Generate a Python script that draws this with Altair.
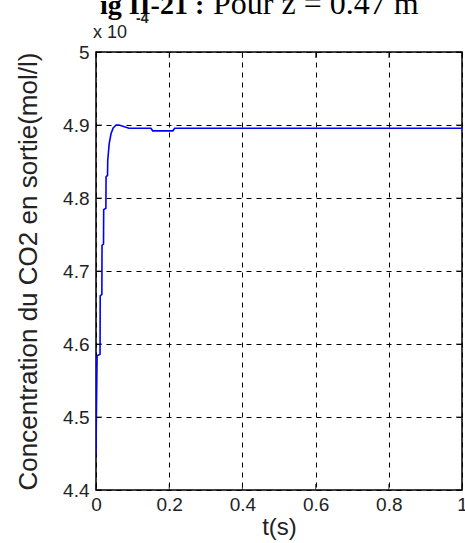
import altair as alt
import pandas as pd

# Outlet CO2 concentration (in units of 1e-4 mol/l) versus time (s)
t_s = [0.000, 0.0010, 0.0030, 0.0110, 0.0115, 0.0160, 0.0165, 0.0205, 0.0210,
       0.0270, 0.0275, 0.0315, 0.0320, 0.0360, 0.0410, 0.0470, 0.0550, 0.0630,
       0.0900, 0.1500, 0.1550, 0.2100, 0.2150, 1.0000]
conc_e4 = [4.448, 4.500, 4.584, 4.586, 4.666, 4.668, 4.735, 4.737, 4.784,
           4.786, 4.829, 4.831, 4.851, 4.874, 4.888, 4.896, 4.900, 4.900,
           4.8955, 4.8955, 4.892, 4.892, 4.8955, 4.8955]

x_ticks = [0, 0.2, 0.4, 0.6, 0.8, 1]
y_ticks = [4.4, 4.5, 4.6, 4.7, 4.8, 4.9, 5]

W, H = 366, 438
FONT = "Liberation Sans"

df = pd.DataFrame({"t": t_s, "c": conc_e4})
xt = pd.DataFrame({"v": x_ticks})
yt = pd.DataFrame({"v": y_ticks})

x_scale = alt.Scale(domain=[0, 1], nice=False, zero=False)
y_scale = alt.Scale(domain=[4.4, 5], nice=False, zero=False)

x_axis = alt.Axis(values=x_ticks, format="~g", title="t(s)", grid=True,
                  gridColor="black", gridDash=[5, 5], gridWidth=1, gridOpacity=1,
                  domain=False, ticks=False, labelFont=FONT, labelFontSize=19,
                  labelColor="#222222", labelPadding=5, labelFlush=False,
                  titleFont=FONT, titleFontSize=24, titleFontWeight="normal",
                  titleColor="#222222", titlePadding=1)
y_axis = alt.Axis(values=y_ticks, format="~g",
                  title="Concentration du CO2 en sortie(mol/l)", grid=True,
                  gridColor="black", gridDash=[5, 5], gridWidth=1, gridOpacity=1,
                  domain=False, ticks=False, labelFont=FONT, labelFontSize=19,
                  labelColor="#222222", labelPadding=7, labelFlush=False,
                  titleFont=FONT, titleFontSize=26, titleFontWeight="normal",
                  titleColor="#222222", titlePadding=21)

line = alt.Chart(df).mark_line(color="#0000ff", strokeWidth=1.6, clip=True).encode(
    x=alt.X("t:Q", scale=x_scale, axis=x_axis),
    y=alt.Y("c:Q", scale=y_scale, axis=y_axis),
)

# inward ticks on all four sides of the box
tick_len = 6
x_ticks_bottom = alt.Chart(xt).mark_tick(color="black", orient="vertical",
                                          size=tick_len, thickness=1).encode(
    x=alt.X("v:Q", scale=x_scale, axis=x_axis), y=alt.value(H - tick_len / 2))
x_ticks_top = alt.Chart(xt).mark_tick(color="black", orient="vertical",
                                       size=tick_len, thickness=1).encode(
    x=alt.X("v:Q", scale=x_scale, axis=x_axis), y=alt.value(tick_len / 2))
y_ticks_left = alt.Chart(yt).mark_tick(color="black", orient="horizontal",
                                        size=tick_len, thickness=1).encode(
    y=alt.Y("v:Q", scale=y_scale, axis=y_axis), x=alt.value(tick_len / 2))
y_ticks_right = alt.Chart(yt).mark_tick(color="black", orient="horizontal",
                                         size=tick_len, thickness=1).encode(
    y=alt.Y("v:Q", scale=y_scale, axis=y_axis), x=alt.value(W - tick_len / 2))

# exponent note above the y axis
exp_base = alt.Chart(pd.DataFrame({"s": ["x 10"]})).mark_text(
    font=FONT, fontSize=18, color="#222222", align="left", baseline="alphabetic"
).encode(x=alt.value(-3), y=alt.value(-14), text="s:N")
exp_pow = alt.Chart(pd.DataFrame({"s": ["-4"]})).mark_text(
    font=FONT, fontSize=14, fontWeight="bold", color="#222222", align="left",
    baseline="alphabetic"
).encode(x=alt.value(40), y=alt.value(-29), text="s:N")

# figure caption, partly above the page edge
cap_bold = alt.Chart(pd.DataFrame({"s": ["ig II-21 :"]})).mark_text(
    font="Liberation Serif", fontSize=28, fontWeight="bold", color="black",
    align="left", baseline="alphabetic"
).encode(x=alt.value(4), y=alt.value(-38), text="s:N")
cap_norm = alt.Chart(pd.DataFrame({"s": ["Pour z = 0.47 m"]})).mark_text(
    font="Liberation Serif", fontSize=32, color="black",
    align="left", baseline="alphabetic"
).encode(x=alt.value(117), y=alt.value(-38), text="s:N")

chart = alt.layer(
    line, x_ticks_bottom, x_ticks_top, y_ticks_left, y_ticks_right,
    exp_base, exp_pow, cap_bold, cap_norm
).properties(
    width=W, height=H,
    padding={"left": 96, "top": 52, "right": 3, "bottom": 53},
    autosize=alt.AutoSizeParams(type="none"),
    background="white",
).configure_view(stroke="black", strokeWidth=1.5)

chart.save("out.html", embed_options={"renderer": "svg", "actions": False})
